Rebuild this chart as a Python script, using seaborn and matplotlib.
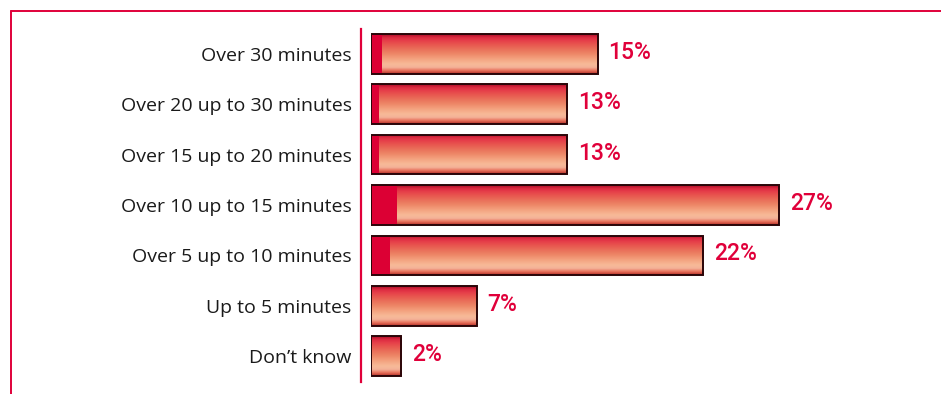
import numpy as np
import pandas as pd
import matplotlib
matplotlib.use("Agg")
import matplotlib.pyplot as plt
from matplotlib.lines import Line2D
from matplotlib.patches import Rectangle
from matplotlib.colors import LinearSegmentedColormap
import seaborn as sns

# Survey data: waiting time distribution (% of respondents)
categories = [
    "Over 30 minutes",
    "Over 20 up to 30 minutes",
    "Over 15 up to 20 minutes",
    "Over 10 up to 15 minutes",
    "Over 5 up to 10 minutes",
    "Up to 5 minutes",
    "Don\u2019t know",
]
shares = [15, 13, 13, 27, 22, 7, 2]
# Highlighted inner portion of each bar
core_shares = [0.7, 0.55, 0.55, 1.7, 1.25, 0.0, 0.0]
value_labels = [f"{v}%" for v in shares]

df = pd.DataFrame({"category": categories, "share": shares, "core": core_shares})

RED = "#e0003a"
TEXT = "#1a1a1a"
EDGE = "#2a0508"

sns.set_theme(style="white")
plt.rcParams["font.family"] = ["Open Sans", "DejaVu Sans"]

W, H = 941, 394
fig = plt.figure(figsize=(W / 100, H / 100), dpi=100)

px_per_unit = 15.1
x_max = 35
left_px = 371
ax_w = x_max * px_per_unit
top_px, bot_px = 28.5, 381.5
ax = fig.add_axes([left_px / W, (H - bot_px) / H, ax_w / W, (bot_px - top_px) / H])

bar_w = 0.79
sns.barplot(data=df, x="share", y="category", orient="h", color="white",
            width=bar_w, edgecolor="none", ax=ax, zorder=1)
main_bars = list(ax.patches)

# vertical gradient: dark crimson on top fading to peach, darker rim at the bottom
grad_cols = ["#a80c26", "#dc2a40", "#e6404a", "#e8544e", "#e96656", "#eb785e",
             "#ee8868", "#f29a78", "#f5ab88", "#f7ba98", "#f4b298", "#e8705a", "#b02c26"]
cmap = LinearSegmentedColormap.from_list("barfade", grad_cols, N=256)
grad = np.linspace(0, 1, 256).reshape(-1, 1)

for p in main_bars:
    x0, y0 = p.get_x(), p.get_y()
    w, h = p.get_width(), p.get_height()
    if w <= 0:
        continue
    im = ax.imshow(grad, cmap=cmap, aspect="auto", interpolation="bilinear",
                   extent=(x0, x0 + w, y0 + h, y0), zorder=1.5)
    im.set_clip_path(p)

sns.barplot(data=df, x="core", y="category", orient="h", color="#dc0034",
            saturation=1, width=bar_w, edgecolor="none", ax=ax, zorder=2)

for p in main_bars:
    ax.add_patch(Rectangle((p.get_x(), p.get_y()), p.get_width(), p.get_height(),
                           fill=False, edgecolor=EDGE, linewidth=1.4, zorder=3))

ax.set_xlim(0, x_max)
ax.set_ylim(len(categories) - 0.5, -0.5)

for p, lab in zip(main_bars, value_labels):
    ax.text(p.get_x() + p.get_width() + 11 / px_per_unit, p.get_y() + p.get_height() / 2 - 0.03,
            lab, color=RED, fontsize=16.5, fontweight=500, va="center", ha="left",
            family=["Roboto", "DejaVu Sans"])

ax.set_xlabel("")
ax.set_ylabel("")
ax.set_xticks([])
for s in ["top", "right", "bottom"]:
    ax.spines[s].set_visible(False)
ax.spines["left"].set_position(("outward", 7.5))
ax.spines["left"].set_color(RED)
ax.spines["left"].set_linewidth(1.6)
ax.tick_params(axis="y", length=0, pad=6.5, labelsize=14, labelcolor=TEXT)
ax.patch.set_alpha(0)

# outer frame lines (top and left)
fy = 1 - 10.5 / H
fx = 10.5 / W
fig.add_artist(Line2D([fx, 1], [fy, fy], color=RED, lw=1.4, transform=fig.transFigure))
fig.add_artist(Line2D([fx, fx], [0, fy], color=RED, lw=1.4, transform=fig.transFigure))

fig.savefig("out.png", dpi=100)
